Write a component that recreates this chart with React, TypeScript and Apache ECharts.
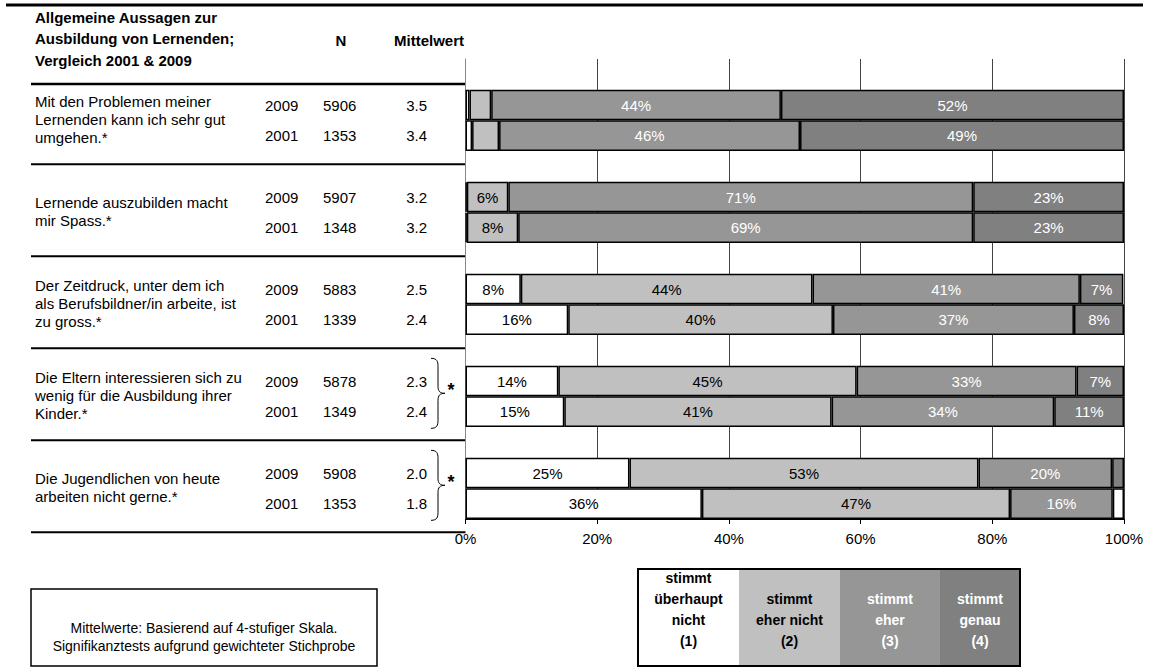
import React, { useEffect, useRef } from "react";
import * as echarts from "echarts";

// ---------- data ----------
const STATEMENTS = [
  "Mit den Problemen meiner\nLernenden kann ich sehr gut\numgehen.*",
  "Lernende auszubilden macht\nmir Spass.*",
  "Der Zeitdruck, unter dem ich\nals Berufsbildner/in arbeite, ist\nzu gross.*",
  "Die Eltern interessieren sich zu\nwenig für die Ausbildung ihrer\nKinder.*",
  "Die Jugendlichen von heute\narbeiten nicht gerne.*",
];
const YEARS = ["2009", "2001"];
const N_2009 = ["5906", "5907", "5883", "5878", "5908"];
const N_2001 = ["1353", "1348", "1339", "1349", "1353"];
const MEAN_2009 = ["3.5", "3.2", "2.5", "2.3", "2.0"];
const MEAN_2001 = ["3.4", "3.2", "2.4", "2.4", "1.8"];
const SIGNIFICANT = [false, false, false, true, true];

const LEVELS = [
  "stimmt\nüberhaupt\nnicht\n(1)",
  "stimmt\neher nicht\n(2)",
  "stimmt\neher\n(3)",
  "stimmt\ngenau\n(4)",
];
const LEVEL_COLORS = ["#FFFFFF", "#C0C0C0", "#969696", "#808080"];
const LEVEL_TEXT = ["#000000", "#000000", "#FFFFFF", "#FFFFFF"];

// percentages per answer level, one value per statement
const NICHT_2009 = [0.6, 0.2, 8.4, 14.1, 24.9];
const NICHT_2001 = [1.0, 0.2, 15.6, 15.0, 35.9];
const EHER_NICHT_2009 = [3.3, 6.3, 44.3, 45.3, 53.0];
const EHER_NICHT_2001 = [4.1, 7.8, 40.2, 40.6, 46.8];
const EHER_2009 = [44.0, 70.6, 40.6, 33.4, 20.3];
const EHER_2001 = [45.7, 69.1, 36.6, 33.8, 15.6];
const GENAU_2009 = [52.1, 22.9, 6.6, 7.2, 1.8];
const GENAU_2001 = [49.2, 22.9, 7.6, 10.6, 1.7];

const X_TICKS = [0, 20, 40, 60, 80, 100];
const NOTE = "Mittelwerte: Basierend auf 4-stufiger Skala.\nSignifikanztests aufgrund gewichteter Stichprobe";
const HEADER = "Allgemeine Aussagen zur\nAusbildung von Lernenden;\nVergleich 2001 & 2009";

// ---------- build ----------
const FONT = "Liberation Sans, Arial, Helvetica, sans-serif";
type Row = { id: string; g: number; y: number }; // y: -1 blank, 0 2009, 1 2001
const ROWS: Row[] = [];
STATEMENTS.forEach((_, g) => {
  ROWS.push({ id: `b${g}`, g, y: -1 });
  ROWS.push({ id: `g${g}_2009`, g, y: 0 });
  ROWS.push({ id: `g${g}_2001`, g, y: 1 });
});
const LEVEL_DATA = [
  [NICHT_2009, NICHT_2001],
  [EHER_NICHT_2009, EHER_NICHT_2001],
  [EHER_2009, EHER_2001],
  [GENAU_2009, GENAU_2001],
];

echarts.graphic.registerShape(
  "brace",
  echarts.graphic.extendPath(
    "M0,0 C6,0 7,3 7,8 L7,28 C7,33 9,35 14,35 C9,35 7,37 7,42 L7,62 C7,67 6,70 0,70",
    {}
  )
);

export default function App() {
  const ref = useRef<HTMLDivElement>(null);
  useEffect(() => {
    if (!ref.current) return;
    const chart = echarts.init(ref.current, undefined, { renderer: "svg" });

    const series = LEVEL_DATA.map((lv, li) => ({
      type: "bar",
      name: LEVELS[li],
      stack: "all",
      barCategoryGap: "0%",
      itemStyle: { color: LEVEL_COLORS[li], borderColor: "#000", borderWidth: 1.5 },
      label: {
        show: true,
        position: "inside",
        color: LEVEL_TEXT[li],
        fontSize: 15,
        fontFamily: FONT,
        formatter: (p: any) => (typeof p.value === "number" && p.value >= 5 ? Math.round(p.value) + "%" : ""),
      },
      data: ROWS.map((r) => {
        if (r.y < 0) return "-";
        const v = lv[r.y][r.g];
        // last segment of the 2001 row of the last statement is drawn white in the source
        if (li === 3 && r.g === 4 && r.y === 1) return { value: v, itemStyle: { color: "#FFFFFF" } };
        return v;
      }),
    }));

    chart.setOption({
      animation: false,
      grid: { left: 465.5, right: 25, top: 59, bottom: 149, containLabel: false, outerBoundsMode: "none" },
      xAxis: {
        type: "value",
        min: X_TICKS[0],
        max: X_TICKS[X_TICKS.length - 1],
        interval: X_TICKS[1] - X_TICKS[0],
        axisLine: { show: true, lineStyle: { color: "#000", width: 1 } },
        axisTick: { show: true, length: 5, lineStyle: { color: "#000" } },
        axisLabel: { formatter: (v: number) => v + "%", color: "#000", fontSize: 15, fontFamily: FONT, margin: 12 },
        splitLine: { show: true, lineStyle: { color: "#444", width: 1 } },
      },
      yAxis: {
        type: "category",
        inverse: true,
        data: ROWS.map((r) => r.id),
        axisLine: { show: true, lineStyle: { color: "#888", width: 1 } },
        axisTick: { show: false },
        axisLabel: {
          interval: 0,
          margin: 38.5,
          formatter: (_v: string, i: number) => {
            const r = ROWS[i];
            if (!r || r.y < 0) return "";
            const n = r.y === 0 ? N_2009[r.g] : N_2001[r.g];
            const m = r.y === 0 ? MEAN_2009[r.g] : MEAN_2001[r.g];
            return `{y|${YEARS[r.y]}}{n|${n}}{m|${m}}`;
          },
          rich: {
            y: { width: 58, align: "left", fontSize: 15, fontFamily: FONT, color: "#000" },
            n: { width: 58, align: "left", fontSize: 15, fontFamily: FONT, color: "#000" },
            m: { width: 46, align: "right", fontSize: 15, fontFamily: FONT, color: "#000" },
          },
        },
        splitLine: { show: false },
      },
      series,
    });

    const yPix = (i: number) => chart.convertToPixel({ yAxisIndex: 0 }, ROWS[i].id) as number;
    const step = yPix(1) - yPix(0);
    const axisX = chart.convertToPixel({ xAxisIndex: 0 }, 0) as number;
    const g: any[] = [];

    // top rule
    g.push({ type: "line", shape: { x1: 6, y1: 5, x2: 1143, y2: 5 }, style: { stroke: "#000", lineWidth: 3 } });
    // header
    g.push({ type: "text", style: { text: HEADER, x: 35, y: 38.5, verticalAlign: "middle", font: `bold 15px ${FONT}`, lineHeight: 21.5, fill: "#000" } });
    g.push({ type: "text", style: { text: "N", x: 341, y: 40, align: "center", verticalAlign: "middle", font: `bold 15px ${FONT}`, fill: "#000" } });
    g.push({ type: "text", style: { text: "Mittelwert", x: 429, y: 40, align: "center", verticalAlign: "middle", font: `bold 15px ${FONT}`, fill: "#000" } });
    g.push({ type: "line", shape: { x1: 31, y1: 84, x2: axisX, y2: 84 }, style: { stroke: "#000", lineWidth: 2.5 } });

    STATEMENTS.forEach((s, gi) => {
      const y9 = yPix(gi * 3 + 1);
      const y1 = yPix(gi * 3 + 2);
      const c = (y9 + y1) / 2;
      g.push({ type: "text", style: { text: s, x: 35, y: c - 1, verticalAlign: "middle", font: `15px ${FONT}`, lineHeight: 18, fill: "#000" } });
      // separator below group
      const sepY = y1 + step - 2;
      g.push({ type: "line", shape: { x1: 31, y1: sepY, x2: axisX, y2: sepY }, style: { stroke: "#000", lineWidth: 2 } });
      if (SIGNIFICANT[gi]) {
        g.push({ type: "brace", x: 431, y: c - 38, style: { fill: "none", stroke: "#000", lineWidth: 1 } });
        g.push({ type: "text", style: { text: "*", x: 451, y: c - 6, align: "center", verticalAlign: "middle", font: `bold 18px ${FONT}`, fill: "#000" } });
      }
    });

    // legend box
    const LX = [638, 739, 840, 940, 1020];
    const LY0 = 569, LY1 = 666;
    LEVELS.forEach((lab, i) => {
      g.push({ type: "rect", shape: { x: LX[i], y: LY0, width: LX[i + 1] - LX[i], height: LY1 - LY0 }, style: { fill: LEVEL_COLORS[i] } });
      g.push({ type: "text", style: { text: lab, x: (LX[i] + LX[i + 1]) / 2, y: 651, align: "center", verticalAlign: "bottom", font: `bold 14px ${FONT}`, lineHeight: 21, fill: LEVEL_TEXT[i] } });
    });
    g.push({ type: "rect", shape: { x: LX[0], y: LY0, width: LX[4] - LX[0], height: LY1 - LY0 }, style: { fill: "none", stroke: "#000", lineWidth: 2 } });

    // note box
    g.push({ type: "rect", shape: { x: 31, y: 589, width: 346, height: 77 }, style: { fill: "#fff", stroke: "#000", lineWidth: 1.5 } });
    g.push({ type: "text", style: { text: NOTE, x: 204, y: 637, align: "center", verticalAlign: "middle", font: `14px ${FONT}`, lineHeight: 18, fill: "#000" } });

    chart.setOption({ graphic: g });

    return () => chart.dispose();
  }, []);
  return (
    <div
      ref={ref}
      style={{ position: "fixed", left: 0, top: 0, width: 1149, height: 668, background: "#fff" }}
    />
  );
}
